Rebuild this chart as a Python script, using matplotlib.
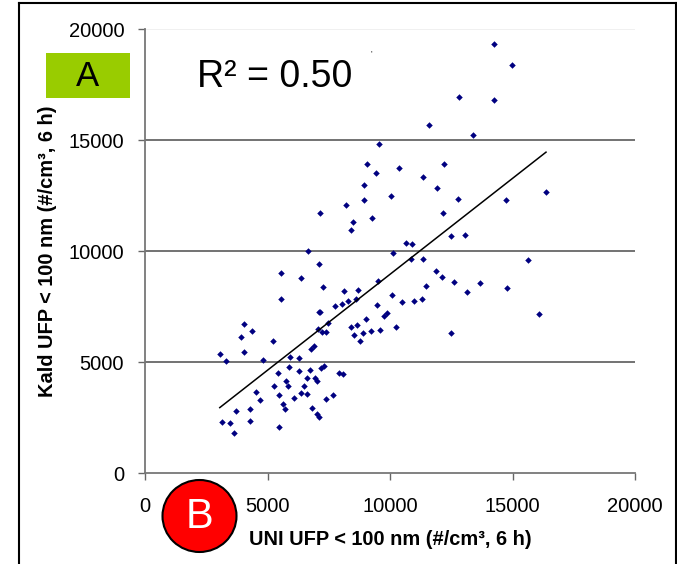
import numpy as np
import matplotlib.pyplot as plt
from matplotlib.patches import Ellipse, Rectangle
from matplotlib.lines import Line2D

plt.rcParams['font.family'] = ['Liberation Sans', 'DejaVu Sans']

# UFP < 100 nm, 6 h averages (#/cm3): UNI station vs Kald station
uni = [14233, 14974, 12804, 14233, 11587, 13369, 9541, 9065, 10353, 12187,
       9436, 11358, 8924, 11922, 10035, 8942, 12769, 14727, 16367, 8219,
       7143, 12152, 9277, 8483, 8395, 12487, 13069, 10670, 10882, 6667,
       10141, 10864, 11358, 15644, 7108, 5556, 11887, 6384, 12116, 9524,
       12593, 13668, 7266, 11481, 14780, 8113, 8713, 13122, 10088, 5556,
       8624, 8289, 10476, 10970, 11323, 8025, 7743, 9471, 7090, 7160,
       16067, 9735, 9894, 7460, 9030, 4039, 4356, 7072, 8413, 8642,
       7231, 7390, 9242, 9594, 10229, 8518, 8907, 12487, 3915, 5220,
       8783, 6878, 6772, 4021, 3051, 3298, 4832, 5908, 6279, 5432,
       5873, 6279, 6720, 7302, 7196, 7919, 8078, 6631, 6931, 7002,
       5750, 5273, 5855, 6508, 4515, 6367, 6596, 5450, 7672, 4709,
       6085, 7390, 5644, 5714, 6808, 3704, 4303, 7019, 7108, 3157,
       3474, 4268, 3616, 5485]
kald = [19335, 18410, 16934, 16805, 15702, 15231, 14858, 13933, 13755, 13933,
        13512, 13350, 12993, 12847, 12506, 12295, 12360, 12328, 12668, 12068,
        11727, 11727, 11484, 11306, 10981, 10673, 10754, 10381, 10333, 10008,
        9911, 9651, 9667, 9619, 9408, 9035, 9116, 8775, 8824, 8662,
        8613, 8564, 8402, 8435, 8321, 8191, 8240, 8143, 8013, 7851,
        7851, 7770, 7721, 7770, 7851, 7624, 7510, 7591, 7267, 7267,
        7170, 7088, 7202, 6780, 6926, 6715, 6423, 6504, 6585, 6683,
        6375, 6375, 6407, 6456, 6585, 6245, 6294, 6326, 6148, 5953,
        5953, 5710, 5580, 5450, 5353, 5061, 5077, 5239, 5191, 4509,
        4769, 4590, 4655, 4818, 4736, 4509, 4444, 4298, 4266, 4136,
        4136, 3925, 3925, 3925, 3633, 3601, 3569, 3504, 3504, 3293,
        3374, 3325, 3114, 2887, 2920, 2790, 2871, 2676, 2514, 2320,
        2271, 2352, 1784, 2076]
r2_text = 'R² = 0.50'
ticks = [0, 5000, 10000, 15000, 20000]

fig = plt.figure(figsize=(6.77, 5.64), dpi=100)
ax = fig.add_axes([0.2142, 0.1613, 0.7238, 0.7864])

# horizontal grid
for t in ticks[1:4]:
    ax.axhline(t, color='#5a5a5a', lw=1.2, zorder=1)
ax.axhline(20000, color='#eeeeee', lw=1.2, zorder=1)

ax.scatter(uni, kald, marker='D', s=11, color='#000080', linewidths=0, zorder=3)

# linear trend over the data range
k, m = np.polyfit(uni, kald, 1)
xs = np.array([min(uni), max(uni)])
ax.plot(xs, k * xs + m, color='black', lw=1.1, zorder=4)

ax.set_xlim(0, 20000)
ax.set_ylim(0, 20000)
ax.set_xticks(ticks)
ax.set_yticks(ticks)
ax.tick_params(direction='out', length=5, width=1, color='#666666',
               labelsize=14.5, pad=10)
ax.tick_params(axis='x', pad=12)
for s in ['top', 'right']:
    ax.spines[s].set_visible(False)
for s in ['left', 'bottom']:
    ax.spines[s].set_color('#777777')
    ax.spines[s].set_linewidth(1.3)

ax.text(-0.2, 0.5, 'Kald UFP < 100 nm (#/cm³, 6 h)', transform=ax.transAxes,
        rotation=90, ha='center', va='center', fontsize=14.4, fontweight='bold')
ax.text(0.501, -0.151, 'UNI UFP < 100 nm (#/cm³, 6 h)', transform=ax.transAxes,
        ha='center', va='center', fontsize=14.4, fontweight='bold')

ax.text(0.106, 0.893, r2_text, transform=ax.transAxes, ha='left', va='center',
        fontsize=27)
ax.text(0.462, 0.945, "'", transform=ax.transAxes, ha='center', va='center',
        fontsize=6)

# "A" badge
fig.patches.append(Rectangle((46 / 677, 1 - 97.5 / 564), 84 / 677, 44.5 / 564,
                             transform=fig.transFigure, facecolor='#99cc00',
                             edgecolor='none'))
fig.text(88 / 677, 1 - 76 / 564, 'A', ha='center', va='center', fontsize=25)

# "B" badge
fig.patches.append(Ellipse((199.5 / 677, 1 - 516 / 564), 74 / 677, 72 / 564,
                           transform=fig.transFigure, facecolor='#ff0000',
                           edgecolor='black', lw=1.5, zorder=5))
fig.text(199.5 / 677, 1 - 517 / 564, 'B', ha='center', va='center', fontsize=30,
         color='white', zorder=6)

# outer frame
fig.lines.append(Line2D([19 / 677, 19 / 677], [0, 1 - 3 / 564], color='black',
                        lw=1.5, transform=fig.transFigure))
fig.lines.append(Line2D([19 / 677, 676 / 677], [1 - 3 / 564, 1 - 3 / 564],
                        color='black', lw=1.5, transform=fig.transFigure))
fig.lines.append(Line2D([676 / 677, 676 / 677], [0, 1 - 3 / 564], color='black',
                        lw=1.5, transform=fig.transFigure))

fig.savefig('out.png', dpi=100)
